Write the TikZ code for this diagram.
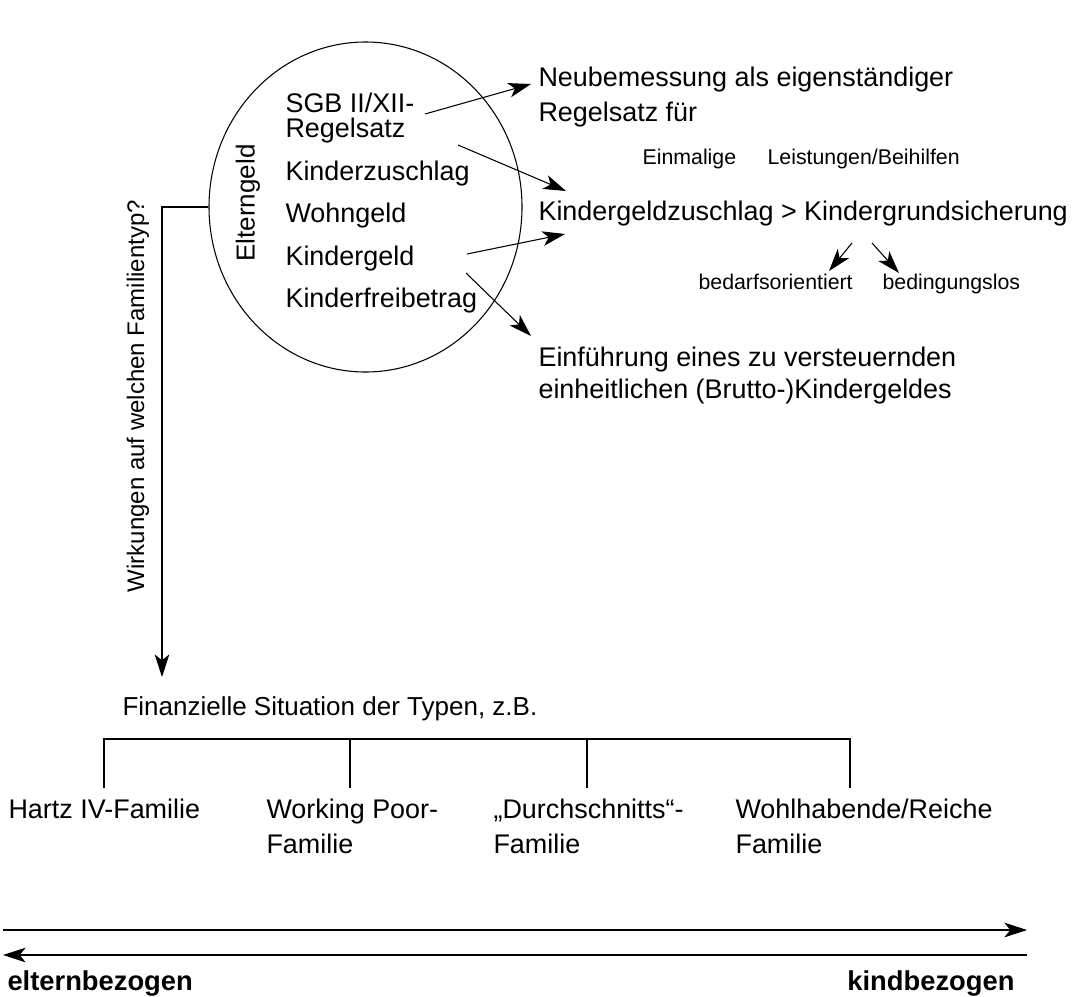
\documentclass[tikz,border=0pt]{standalone}
\usepackage{fontspec}
\setmainfont{Liberation Sans}
\usetikzlibrary{arrows.meta,shapes.geometric}
\tikzset{
  txt/.style={anchor=base west, inner sep=0pt, font=\fontsize{20.2}{24}\selectfont},
  klein/.style={anchor=base west, inner sep=0pt, font=\fontsize{16}{19}\selectfont},
  fett/.style={anchor=base west, inner sep=0pt, font=\fontsize{20.5}{24}\selectfont\bfseries},
  pfeil/.style={-{Stealth[length=17pt,width=11pt,inset=4.5pt]}},
}
\begin{document}
\begin{tikzpicture}[x=0.75pt,y=0.75pt,yscale=-1,line width=0.8pt]
\useasboundingbox (0,0) rectangle (1073,996);

%Shape: Ellipse
\draw (365.5,207) node[ellipse, draw, minimum width=234.75pt, minimum height=247.5pt, inner sep=0pt] (elli) {};
% Text Node
\draw (248,203) node[rotate=90, inner sep=0pt, font=\fontsize{19.5}{23}\selectfont] (elterngeld) {Elterngeld};
% Text Node
\draw (285,112) node[txt] (sgb) {SGB II/XII-};
\draw (285,137) node[txt] (regel) {Regelsatz};
\draw (285,180) node[txt] (kzuschlag) {Kinderzuschlag};
\draw (285,222) node[txt] (wohngeld) {Wohngeld};
\draw (285,265) node[txt] (kgeld) {Kindergeld};
\draw (285,307) node[txt] (kfrei) {Kinderfreibetrag};

%right side
% Text Node
\draw (538,86) node[txt] (neu) {Neubemessung als eigenständiger};
\draw (538,121) node[txt] (neub) {Regelsatz für};
% Text Node
\draw (642,164) node[klein] (einmal) {Einmalige};
\draw (767,164) node[klein] (leist) {Leistungen/Beihilfen};
% Text Node
\draw (538,220) node[txt] (kgz) {Kindergeldzuschlag > Kindergrundsicherung};
% Text Node
\draw (698,289) node[klein] (bedarf) {bedarfsorientiert};
\draw (882,289) node[klein] (beding) {bedingungslos};
% Text Node
\draw (538,366) node[txt] (einf) {Einführung eines zu versteuernden};
\draw (538,398) node[txt] (einfb) {einheitlichen (Brutto-)Kindergeldes};

%Arrows
\coordinate (s1) at (425,114);
\coordinate (e1) at (531,84);
\coordinate (s2) at (458,145);
\coordinate (e2) at (566,191);
\coordinate (s3) at (467,254);
\coordinate (e3) at (565,234);
\coordinate (s4) at (466,273);
\coordinate (e4) at (531,336);
\draw[pfeil] (s1) -- (e1);
\draw[pfeil] (s2) -- (e2);
\draw[pfeil] (s3) -- (e3);
\draw[pfeil] (s4) -- (e4);
\coordinate (s5) at (852,243);
\coordinate (e5) at (829,271);
\coordinate (s6) at (872,243);
\coordinate (e6) at (899,273);
\draw[pfeil] (s5) -- (e5);
\draw[pfeil] (s6) -- (e6);

%left branch
\coordinate (ziel) at (162,677);
\draw[pfeil] (elli.west) -| (ziel);
% Text Node
\draw (138,396) node[rotate=90, inner sep=0pt, font=\fontsize{18}{22}\selectfont] (wirk) {Wirkungen auf welchen Familientyp?};

% Text Node
\draw (122,715) node[txt, font=\fontsize{19.5}{23}\selectfont] (fin) {Finanzielle Situation der Typen, z.B.};

%Straight Lines
\draw (104,788) -- (104,739) -- (850,739) -- (850,788);
\draw (350,739) -- (350,788);
\draw (587,739) -- (587,788);

% Text Node
\draw (8,818) node[txt] (hartz) {Hartz IV-Familie};
\draw (266,818) node[txt] (poor) {Working Poor-};
\draw (266,853) node[txt] (poorb) {Familie};
\draw (493,818) node[txt] (durch) {„Durchschnitts“-};
\draw (493,853) node[txt] (durchb) {Familie};
\draw (735,818) node[txt] (reich) {Wohlhabende/Reiche};
\draw (735,853) node[txt] (reichb) {Familie};

%Bottom arrows
\coordinate (l1) at (3,930);
\coordinate (r1) at (1027,930);
\coordinate (l2) at (3,955);
\coordinate (r2) at (1027,955);
\draw[pfeil] (l1) -- (r1);
\draw[pfeil] (r2) -- (l2);
% Text Node
\draw (7,990) node[fett] (eltern) {elternbezogen};
\draw (1015,990) node[fett, anchor=base east] (kind) {kindbezogen};
\end{tikzpicture}
\end{document}
